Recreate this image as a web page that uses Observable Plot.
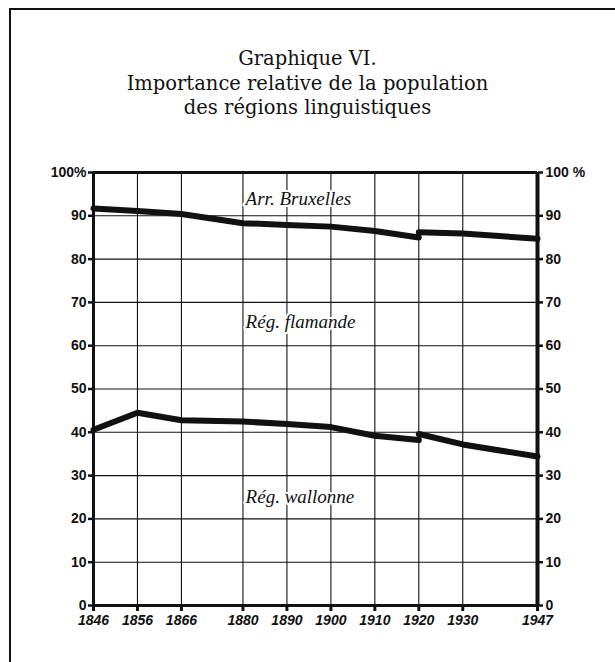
<!DOCTYPE html>
<html><head><meta charset="utf-8">
<script src="https://cdn.jsdelivr.net/npm/d3@7"></script>
<script src="https://cdn.jsdelivr.net/npm/@observablehq/plot@0.6"></script>
<style>
body{margin:0;background:#fff;}
#wrap{position:relative;width:615px;height:662px;overflow:hidden;background:#fff;}
#frame{position:absolute;left:9px;top:8px;width:640px;height:700px;border-top:2px solid #111;border-left:2px solid #111;}
#title{position:absolute;left:0;top:47px;width:615px;text-align:center;font-family:"DejaVu Serif",serif;font-size:19.5px;line-height:24.5px;color:#111;}
#chart{position:absolute;left:0;top:130px;}
</style></head><body>
<div id="wrap"><div id="frame"></div>
<div id="title">Graphique VI.<br>Importance relative de la population<br>des régions linguistiques</div>
<div id="chart"></div></div>
<script>
// Census years
const yearsA = [1846, 1856, 1866, 1880, 1890, 1900, 1910, 1920];
const yearsB = [1920, 1930, 1947];
// Upper boundary (Wallonie + Flandre) = 100 - Arr. Bruxelles
const bruxA = [91.7, 91.1, 90.4, 88.3, 87.9, 87.5, 86.5, 85.0];
const bruxB = [86.2, 85.9, 84.7];
// Lower boundary = Rég. wallonne share
const wallA = [40.6, 44.5, 42.8, 42.5, 41.9, 41.2, 39.2, 38.2];
const wallB = [39.6, 37.2, 34.4];
// Ticks
const xTicks = [1846, 1856, 1866, 1880, 1890, 1900, 1910, 1920, 1930, 1947];
const yTicks = [0, 10, 20, 30, 40, 50, 60, 70, 80, 90, 100];
// Region labels
const labels = ["Arr. Bruxelles", "Rég. flamande", "Rég. wallonne"];
const labelY = [94.0, 65.4, 25.0];
const labelX = 1880.6;

const rows = [];
yearsA.forEach((y, i) => rows.push({seg: "bA", year: y, v: bruxA[i]}));
yearsB.forEach((y, i) => rows.push({seg: "bB", year: y, v: bruxB[i]}));
yearsA.forEach((y, i) => rows.push({seg: "wA", year: y, v: wallA[i]}));
yearsB.forEach((y, i) => rows.push({seg: "wB", year: y, v: wallB[i]}));
const labelRows = labels.map((t, i) => ({t, x: labelX, y: labelY[i]}));

const ink = "#111";
const chart = Plot.plot({
  width: 615, height: 532,
  marginTop: 42, marginBottom: 57, marginLeft: 93, marginRight: 78,
  style: {fontFamily: "Liberation Sans, Arial, sans-serif", color: ink, background: "transparent"},
  x: {domain: [1846, 1947]},
  y: {domain: [0, 100]},
  marks: [
    Plot.ruleY(yTicks.filter(d => d > 0 && d < 100), {stroke: ink, strokeWidth: 1.1}),
    Plot.ruleX(xTicks.filter(d => d > 1846 && d < 1947), {stroke: ink, strokeWidth: 1.1}),
    Plot.ruleY([0, 100], {stroke: ink, strokeWidth: 3}),
    Plot.ruleX([1846], {stroke: ink, strokeWidth: 3}),
    Plot.ruleX([1947], {stroke: ink, strokeWidth: 4}),
    Plot.line(rows, {x: "year", y: "v", z: "seg", stroke: ink, strokeWidth: 6, strokeLinejoin: "round"}),
    Plot.text(labelRows, {x: "x", y: "y", text: "t", textAnchor: "start", fill: ink,
      stroke: "white", strokeWidth: 4, fontFamily: "Liberation Serif, serif", fontStyle: "italic",
      fontSize: 19, style: "letter-spacing:1.2px"}),
    Plot.axisY({anchor: "left", ticks: yTicks, tickFormat: d => d === 100 ? "100%" : String(d),
      tickSize: 5, tickPadding: 2, fontSize: 14, fontWeight: "bold", strokeWidth: 2.5, label: null}),
    Plot.axisY({anchor: "right", ticks: yTicks, tickFormat: d => d === 100 ? "100 %" : String(d),
      tickSize: 5, tickPadding: 3, fontSize: 14, fontWeight: "bold", strokeWidth: 2.5, label: null}),
    Plot.axisX({anchor: "bottom", ticks: xTicks, tickFormat: d => String(d),
      tickSize: 6, tickPadding: 4, fontSize: 14, fontStyle: "italic", fontWeight: "bold", strokeWidth: 3, label: null})
  ]
});
document.getElementById("chart").appendChild(chart);
</script>
</body></html>
